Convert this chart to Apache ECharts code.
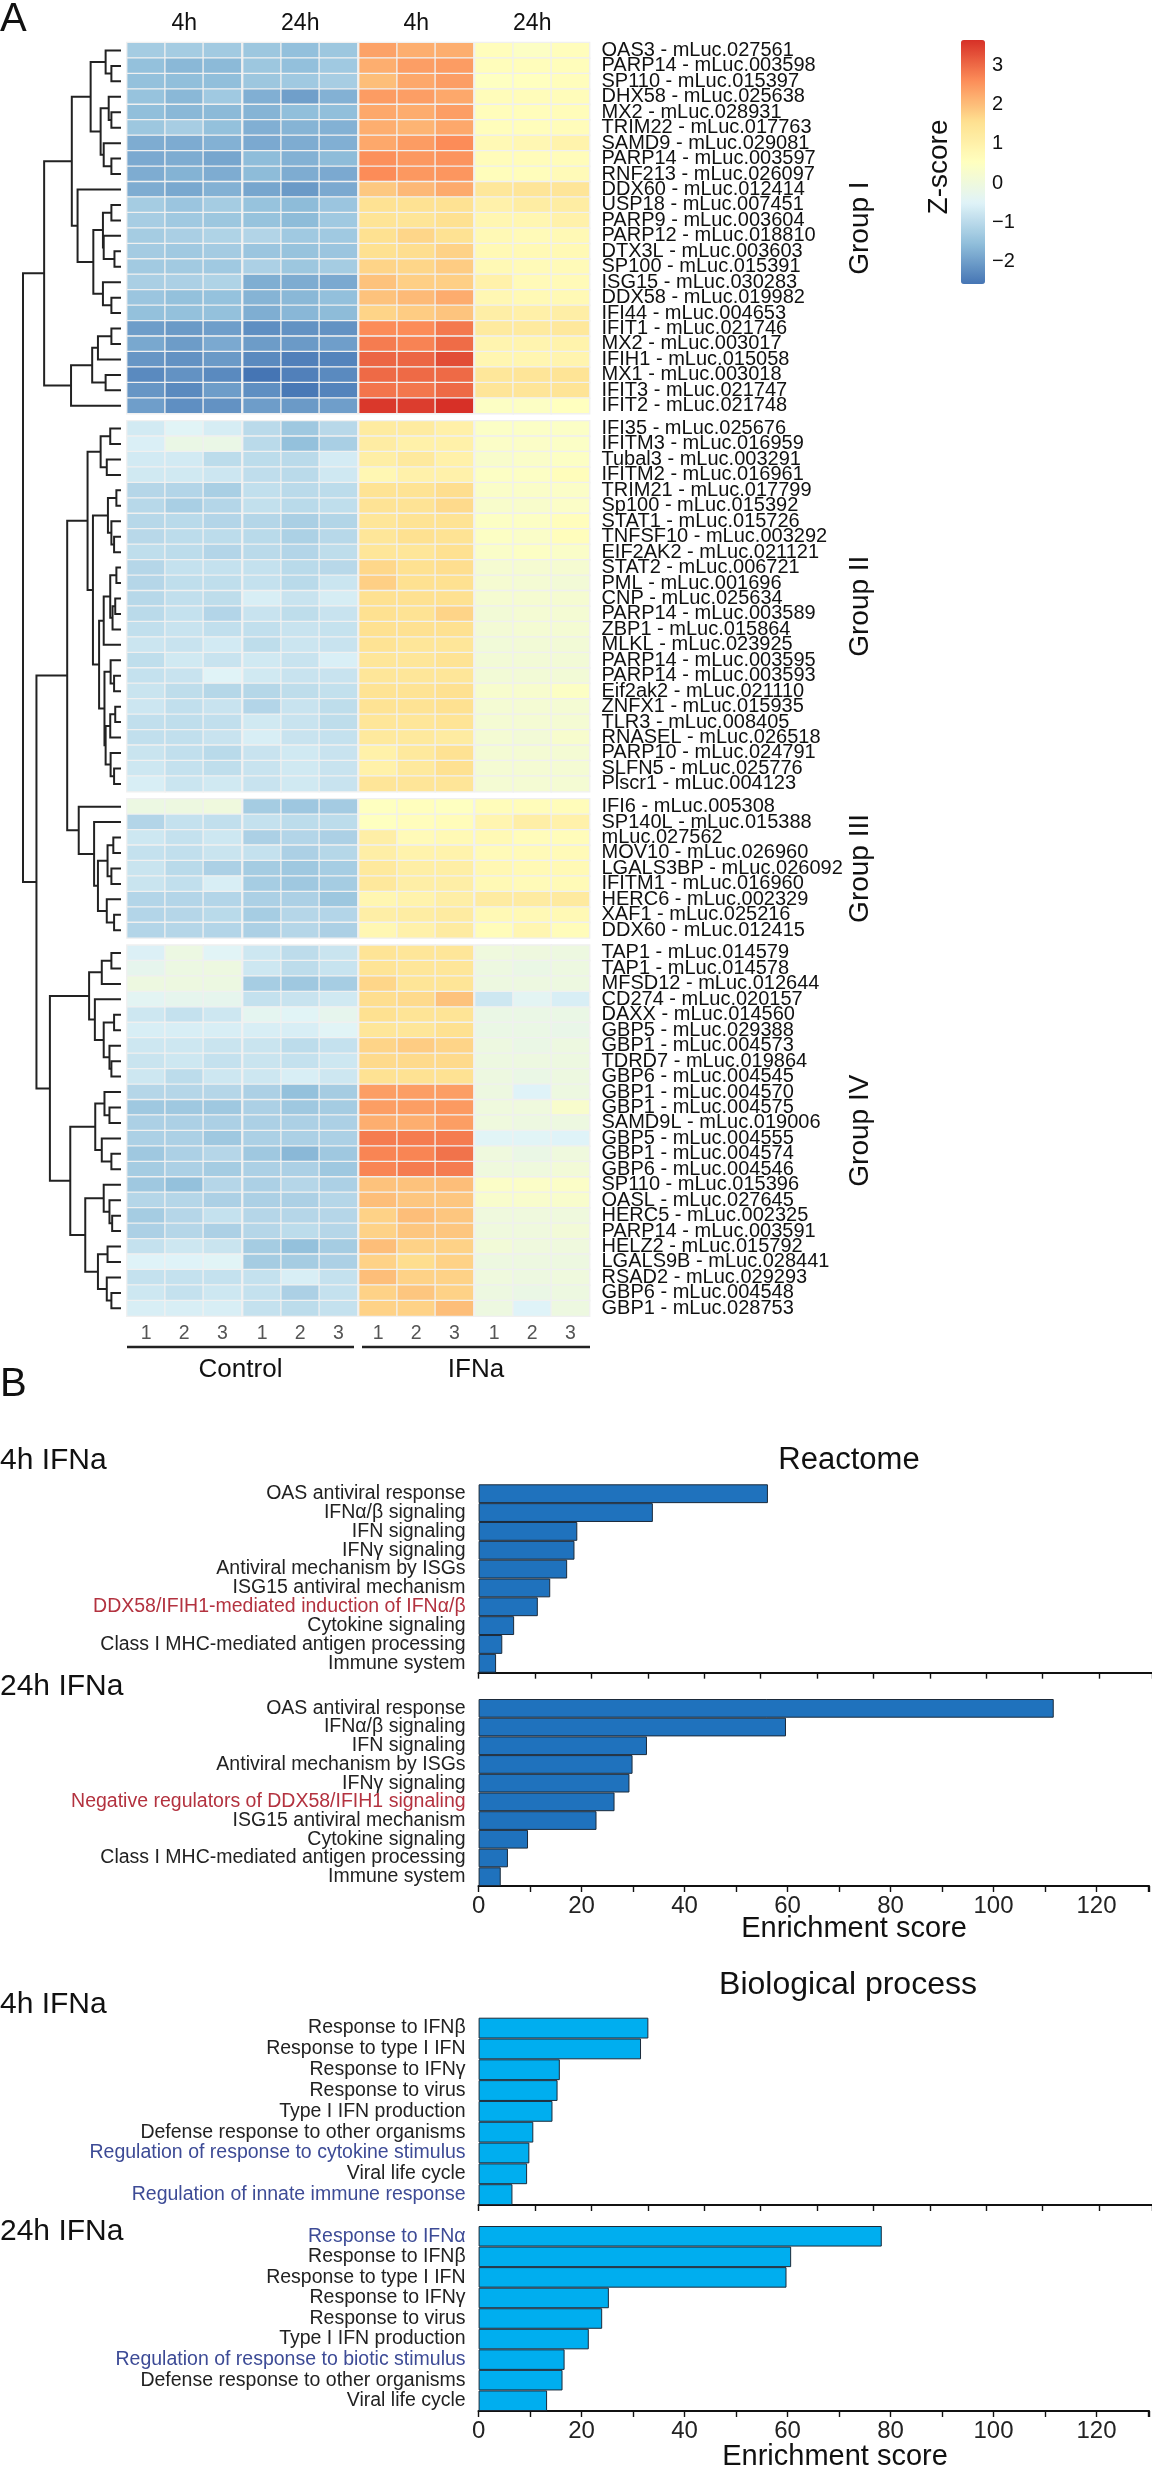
<!DOCTYPE html>
<html><head><meta charset="utf-8">
<script src="https://cdn.jsdelivr.net/npm/echarts@6/dist/echarts.min.js"></script>
<style>html,body{margin:0;padding:0;background:#fff}#c{width:1152px;height:2470px}</style>
</head><body><div id="c"></div>
<script>
// ---------------- DATA ----------------
const timeHeaders = ['4h', '24h', '4h', '24h'];
const replicates = ['1', '2', '3'];
const conditions = ['Control', 'IFNa'];
const groupNames = ['Group I', 'Group II', 'Group III', 'Group IV'];

const groupIGenes = ['OAS3 - mLuc.027561','PARP14 - mLuc.003598','SP110 - mLuc.015397','DHX58 - mLuc.025638','MX2 - mLuc.028931','TRIM22 - mLuc.017763','SAMD9 - mLuc.029081','PARP14 - mLuc.003597','RNF213 - mLuc.026097','DDX60 - mLuc.012414','USP18 - mLuc.007451','PARP9 - mLuc.003604','PARP12 - mLuc.018810','DTX3L - mLuc.003603','SP100 - mLuc.015391','ISG15 - mLuc.030283','DDX58 - mLuc.019982','IFI44 - mLuc.004653','IFIT1 - mLuc.021746','MX2 - mLuc.003017','IFIH1 - mLuc.015058','MX1 - mLuc.003018','IFIT3 - mLuc.021747','IFIT2 - mLuc.021748'];
const groupIIGenes = ['IFI35 - mLuc.025676','IFITM3 - mLuc.016959','Tubal3 - mLuc.003291','IFITM2 - mLuc.016961','TRIM21 - mLuc.017799','Sp100 - mLuc.015392','STAT1 - mLuc.015726','TNFSF10 - mLuc.003292','EIF2AK2 - mLuc.021121','STAT2 - mLuc.006721','PML - mLuc.001696','CNP - mLuc.025634','PARP14 - mLuc.003589','ZBP1 - mLuc.015864','MLKL - mLuc.023925','PARP14 - mLuc.003595','PARP14 - mLuc.003593','Eif2ak2 - mLuc.021110','ZNFX1 - mLuc.015935','TLR3 - mLuc.008405','RNASEL - mLuc.026518','PARP10 - mLuc.024791','SLFN5 - mLuc.025776','Plscr1 - mLuc.004123'];
const groupIIIGenes = ['IFI6 - mLuc.005308','SP140L - mLuc.015388','mLuc.027562','MOV10 - mLuc.026960','LGALS3BP - mLuc.026092','IFITM1 - mLuc.016960','HERC6 - mLuc.002329','XAF1 - mLuc.025216','DDX60 - mLuc.012415'];
const groupIVGenes = ['TAP1 - mLuc.014579','TAP1 - mLuc.014578','MFSD12 - mLuc.012644','CD274 - mLuc.020157','DAXX - mLuc.014560','GBP5 - mLuc.029388','GBP1 - mLuc.004573','TDRD7 - mLuc.019864','GBP6 - mLuc.004545','GBP1 - mLuc.004570','GBP1 - mLuc.004575','SAMD9L - mLuc.019006','GBP5 - mLuc.004555','GBP1 - mLuc.004574','GBP6 - mLuc.004546','SP110 - mLuc.015396','OASL - mLuc.027645','HERC5 - mLuc.002325','PARP14 - mLuc.003591','HELZ2 - mLuc.015792','LGALS9B - mLuc.028441','RSAD2 - mLuc.029293','GBP6 - mLuc.004548','GBP1 - mLuc.028753'];

// z-scores: Control 4h (1,2,3), Control 24h (1,2,3), IFNa 4h (1,2,3), IFNa 24h (1,2,3)
const groupIZ = [
 [-1.26,-1.26,-1.30, -1.37,-1.50,-1.37, 2.35,2.20,2.20, 0.60,0.45,0.60],
 [-1.49,-1.62,-1.60, -1.37,-1.50,-1.33, 2.20,2.39,2.42, 0.62,0.62,0.62],
 [-1.49,-1.53,-1.53, -1.37,-1.33,-1.24, 2.00,2.27,2.39, 0.50,0.55,0.60],
 [-1.45,-1.62,-1.33, -1.75,-1.97,-1.72, 2.42,2.39,2.27, 0.65,0.65,0.65],
 [-1.53,-1.62,-1.60, -1.68,-1.53,-1.53, 2.27,2.22,2.39, 0.62,0.62,0.65],
 [-1.37,-1.24,-1.49, -1.75,-1.68,-1.72, 2.20,2.12,2.27, 0.62,0.62,0.65],
 [-1.79,-1.80,-1.72, -1.83,-1.79,-1.75, 2.27,2.42,2.62, 0.75,0.80,0.95],
 [-1.83,-1.79,-1.88, -1.55,-1.72,-1.57, 2.57,2.47,2.52, 0.65,0.65,0.65],
 [-1.79,-1.70,-1.79, -1.57,-1.79,-1.83, 2.62,2.47,2.50, 0.62,0.62,0.70],
 [-1.79,-1.85,-1.72, -1.88,-2.05,-1.83, 1.87,2.07,2.25, 1.35,1.40,1.40],
 [-1.26,-1.40,-1.26, -1.45,-1.57,-1.40, 1.50,1.50,1.50, 1.00,1.15,1.15],
 [-1.24,-1.33,-1.37, -1.45,-1.57,-1.33, 1.45,1.42,1.55, 0.85,0.85,1.00],
 [-1.26,-1.20,-1.13, -1.10,-1.33,-1.33, 1.55,1.70,1.50, 0.75,0.70,0.75],
 [-1.28,-1.33,-1.28, -1.40,-1.45,-1.40, 1.55,1.60,1.75, 0.75,0.75,0.75],
 [-1.31,-1.31,-1.33, -1.18,-1.37,-1.26, 1.72,1.70,1.82, 0.75,0.70,0.70],
 [-1.20,-1.18,-1.13, -1.77,-1.79,-1.83, 1.95,1.78,1.78, 1.00,0.70,0.70],
 [-1.40,-1.49,-1.47, -1.68,-1.62,-1.50, 1.95,2.05,2.22, 0.80,0.75,0.75],
 [-1.49,-1.49,-1.49, -1.77,-1.64,-1.57, 1.72,1.82,1.92, 1.10,1.05,1.10],
 [-2.00,-2.05,-1.99, -2.20,-2.15,-2.15, 2.62,2.62,2.83, 1.25,1.25,1.30],
 [-1.85,-2.02,-1.83, -2.02,-2.05,-1.99, 2.80,2.72,2.97, 0.90,0.90,0.95],
 [-2.10,-2.15,-2.05, -2.27,-2.40,-2.35, 3.04,3.04,3.32, 0.85,0.85,0.90],
 [-2.27,-2.15,-2.27, -2.56,-2.40,-2.27, 3.00,3.00,3.00, 1.35,1.40,1.45],
 [-2.10,-2.27,-2.00, -2.20,-2.50,-2.35, 2.87,2.85,3.00, 1.40,1.40,1.45],
 [-1.99,-2.20,-2.15, -2.00,-2.05,-1.99, 3.55,3.50,3.64, 0.45,0.45,0.55]
];
const groupIIZ = [
 [-0.68,-0.45,-0.62, -0.99,-1.34,-1.02, 1.22,1.22,1.05, 0.42,0.42,0.42],
 [-0.57,-0.15,-0.17, -0.99,-1.49,-1.21, 1.16,1.02,1.02, 0.40,0.40,0.42],
 [-0.68,-0.68,-0.96, -0.96,-0.99,-0.65, 1.12,1.28,1.02, 0.32,0.37,0.45],
 [-0.70,-0.70,-0.76, -0.93,-0.99,-0.72, 0.80,1.00,1.00, 0.45,0.45,0.62],
 [-1.06,-1.08,-1.21, -0.90,-0.99,-0.96, 1.49,1.49,1.60, 0.37,0.37,0.40],
 [-1.03,-1.21,-1.07, -0.88,-1.00,-0.92, 1.47,1.47,1.65, 0.32,0.32,0.40],
 [-1.03,-1.00,-1.08, -1.07,-1.20,-1.09, 1.38,1.49,1.49, 0.45,0.45,0.60],
 [-1.02,-0.96,-0.96, -1.00,-1.17,-1.03, 1.38,1.55,1.49, 0.45,0.37,0.60],
 [-0.92,-0.96,-1.08, -0.99,-1.08,-0.94, 1.38,1.38,1.55, 0.37,0.45,0.37],
 [-1.06,-0.86,-0.86, -0.86,-1.00,-1.02, 1.68,1.55,1.60, 0.22,0.22,0.22],
 [-1.06,-0.92,-0.92, -0.86,-1.00,-0.78, 1.78,1.55,1.55, 0.22,0.18,0.12],
 [-1.03,-0.90,-0.94, -0.60,-0.81,-0.62, 1.55,1.55,1.55, 0.22,0.22,0.22],
 [-0.99,-0.86,-1.08, -0.81,-0.94,-0.81, 1.55,1.49,1.72, 0.12,0.18,0.18],
 [-0.90,-0.81,-0.90, -0.90,-0.81,-0.84, 1.55,1.55,1.55, 0.15,0.18,0.18],
 [-0.77,-0.81,-0.68, -0.94,-0.77,-0.81, 1.49,1.38,1.38, 0.08,0.12,0.12],
 [-0.92,-0.70,-0.81, -0.70,-0.81,-0.58, 1.38,1.38,1.49, 0.12,0.12,0.12],
 [-0.86,-0.81,-0.48, -0.70,-0.81,-0.81, 1.38,1.38,1.38, 0.12,0.12,0.12],
 [-0.80,-0.94,-1.05, -1.05,-0.94,-0.88, 1.49,1.49,1.55, 0.28,0.28,0.45],
 [-0.76,-0.90,-0.81, -1.08,-0.81,-0.94, 1.49,1.49,1.55, 0.18,0.18,0.18],
 [-0.90,-0.92,-0.90, -0.70,-0.81,-0.94, 1.38,1.38,1.45, 0.18,0.18,0.18],
 [-0.90,-0.90,-0.81, -0.60,-0.81,-0.86, 1.28,1.28,1.20, 0.18,0.12,0.28],
 [-0.80,-0.90,-1.00, -0.81,-0.70,-0.81, 1.02,1.28,1.50, 0.18,0.18,0.18],
 [-0.74,-0.86,-0.92, -0.81,-0.70,-0.81, 1.02,1.28,1.55, 0.18,0.18,0.18],
 [-0.60,-0.78,-0.70, -0.81,-0.70,-0.81, 1.40,1.40,1.40, 0.18,0.18,0.18]
];
const groupIIIZ = [
 [-0.10,-0.05, 0.00, -1.26,-1.36,-1.28, 0.52,0.58,0.52, 0.65,0.65,0.65],
 [-1.08,-0.86,-0.90, -0.86,-0.96,-0.96, 0.52,0.60,0.65, 0.88,1.10,1.00],
 [-0.74,-0.86,-0.74, -1.18,-1.08,-1.18, 1.10,0.70,0.75, 0.75,0.65,0.65],
 [-0.86,-0.90,-0.80, -0.86,-1.18,-1.05, 1.10,0.95,0.95, 0.70,0.70,0.70],
 [-0.80,-1.00,-1.18, -1.27,-1.34,-1.25, 1.28,1.12,1.12, 0.80,0.75,0.75],
 [-0.80,-0.90,-0.60, -1.25,-1.34,-1.27, 1.30,1.10,1.10, 0.75,0.70,0.72],
 [-1.08,-1.08,-1.08, -1.18,-1.18,-1.37, 0.85,0.95,1.10, 1.20,1.20,1.25],
 [-1.08,-1.06,-1.00, -1.25,-1.06,-1.08, 1.10,1.15,1.20, 0.75,0.75,0.75],
 [-1.08,-1.06,-1.08, -1.18,-1.06,-1.18, 0.80,1.00,1.20, 0.65,0.85,0.65]
];
const groupIVZ = [
 [-0.55,-0.10,-0.45, -0.74,-0.95,-0.80, 1.45,1.38,1.38, 0.00,-0.02,-0.05],
 [-0.30,-0.10,-0.05, -0.74,-0.95,-0.82, 1.45,1.38,1.38, -0.05,-0.15,-0.05],
 [-0.05,-0.05,-0.08, -1.25,-1.34,-1.25, 1.70,1.42,1.42, -0.05,-0.05,-0.05],
 [-0.40,-0.30,-0.30, -0.86,-0.81,-0.70, 1.60,1.65,1.95, -0.74,-0.40,-0.60],
 [-0.74,-0.86,-0.74, -0.35,-0.45,-0.30, 1.55,1.45,1.45, -0.15,-0.15,-0.15],
 [-0.60,-0.60,-0.60, -0.60,-0.60,-0.45, 1.38,1.38,1.55, -0.15,-0.15,-0.20],
 [-0.74,-0.74,-0.80, -0.80,-0.96,-0.86, 1.72,1.82,1.72, -0.05,-0.15,-0.05],
 [-0.80,-0.74,-0.86, -0.80,-0.86,-0.74, 1.65,1.65,1.65, -0.05,-0.05,-0.05],
 [-0.74,-0.96,-0.74, -0.74,-0.60,-0.74, 1.50,1.50,1.50, -0.05,-0.15,-0.05],
 [-1.06,-1.06,-1.06, -1.18,-1.49,-1.27, 2.40,2.40,2.40, -0.05,-0.50,-0.05],
 [-1.34,-1.34,-1.34, -1.18,-1.34,-1.27, 2.40,2.40,2.45, 0.00,0.00,0.30],
 [-1.18,-1.18,-1.18, -1.18,-1.18,-1.18, 2.20,2.20,2.40, 0.00,-0.05,-0.05],
 [-1.18,-1.18,-1.34, -1.18,-1.18,-1.18, 2.80,2.80,2.80, -0.45,-0.45,-0.50],
 [-1.34,-1.18,-1.06, -1.34,-1.62,-1.34, 2.70,2.70,2.90, 0.00,-0.15,0.00],
 [-1.27,-1.18,-1.27, -1.18,-1.18,-1.34, 2.70,2.80,2.80, 0.00,0.00,0.10],
 [-1.34,-1.49,-1.06, -1.18,-1.06,-1.18, 1.95,1.95,2.00, 0.40,0.40,0.40],
 [-1.06,-1.06,-1.18, -1.18,-1.18,-1.06, 2.00,1.90,1.90, 0.30,0.30,0.30],
 [-1.27,-1.06,-0.86, -1.06,-1.06,-1.06, 1.75,2.00,1.90, 0.00,0.00,0.00],
 [-1.18,-1.06,-1.18, -1.06,-0.96,-1.06, 1.75,1.90,1.90, 0.00,0.00,0.10],
 [-0.86,-0.74,-0.80, -1.27,-1.49,-1.27, 2.00,1.75,1.75, 0.10,0.00,0.00],
 [-0.50,-0.50,-0.45, -1.27,-1.27,-1.18, 1.75,1.60,1.75, -0.05,-0.05,-0.05],
 [-0.86,-0.86,-0.86, -0.86,-0.60,-0.86, 2.00,1.75,1.75, 0.00,-0.05,0.00],
 [-0.74,-0.86,-0.74, -0.86,-1.18,-0.86, 1.75,1.90,1.75, -0.05,-0.15,-0.05],
 [-0.60,-0.60,-0.60, -0.86,-0.96,-0.86, 1.75,1.75,2.00, -0.05,-0.50,-0.05]
];
const zRange = [-2.56, 3.64];
const zTicks = [-2, -1, 0, 1, 2, 3];

// Row dendrogram: [left, right, height]; numbers = row index (0..80), 'nK' = node K
const dendroNodes = [
 [1,2,25],[0,'n0',40],[4,5,25],[3,'n2',32],[7,8,25],[6,'n4',45],['n3','n5',53],['n1','n6',79],
 [10,11,25],[13,14,17],[12,'n9',45],['n8','n10',47],[16,17,25],[15,'n12',47],['n11','n13',72],
 [9,'n14',113],['n7','n15',128],[18,19,25],['n17',20,60],[21,22,40],['n18','n19',75],['n20',23,130],
 ['n16','n21',200],
 [24,25,28],[26,27,37],['n23','n24',53],[28,29,12],[31,32,18],[30,'n27',25],['n26','n28',34],
 [33,34,12],[35,36,15],['n31',37,22],['n30','n32',28],['n33',38,45],[40,41,18],[39,'n35',27],
 [42,43,15],['n37',44,28],[46,47,18],[45,'n39',27],['n38','n40',40],['n36','n41',43],
 ['n34','n42',57],['n29','n43',73],['n25','n44',87],
 [50,51,20],[52,53,25],['n46','n47',35],[55,56,18],[54,'n49',37],['n48','n50',60],[49,'n51',70],
 [48,'n52',110],['n45','n53',140],
 [57,58,25],['n55',59,50],[61,62,18],[64,65,25],[63,'n58',30],['n57','n59',45],[60,'n60',68],
 ['n56','n61',83],[67,68,30],[66,'n63',43],[70,71,25],[69,'n65',50],['n64','n66',67],
 [74,75,23],[73,'n68',30],[72,'n69',45],[76,77,35],[79,80,25],[78,'n72',37],['n71','n73',60],
 ['n70','n74',93],['n67','n75',132],['n62','n76',185],['n54','n77',220],['n22','n78',255]
];

// Panel B
const reactomeTerms4h = ['OAS antiviral response','IFNα/β signaling','IFN signaling','IFNγ signaling','Antiviral mechanism by ISGs','ISG15 antiviral mechanism','DDX58/IFIH1-mediated induction of IFNα/β','Cytokine signaling','Class I MHC-mediated antigen processing','Immune system'];
const reactomeScores4h = [51.3, 30.9, 17.5, 17.0, 15.7, 12.7, 10.5, 6.3, 4.2, 3.1];
const reactomeTerms24h = ['OAS antiviral response','IFNα/β signaling','IFN signaling','Antiviral mechanism by ISGs','IFNγ signaling','Negative regulators of DDX58/IFIH1 signaling','ISG15 antiviral mechanism','Cytokine signaling','Class I MHC-mediated antigen processing','Immune system'];
const reactomeScores24h = [111.7, 59.7, 32.7, 29.9, 29.3, 26.4, 22.9, 9.6, 5.7, 4.3];
const bpTerms4h = ['Response to IFNβ','Response to type I IFN','Response to IFNγ','Response to virus','Type I IFN production','Defense response to other organisms','Regulation of response to cytokine stimulus','Viral life cycle','Regulation of innate immune response'];
const bpScores4h = [30.1, 28.8, 14.4, 14.0, 13.1, 9.7, 9.0, 8.6, 6.0];
const bpTerms24h = ['Response to IFNα','Response to IFNβ','Response to type I IFN','Response to IFNγ','Response to virus','Type I IFN production','Regulation of response to biotic stimulus','Defense response to other organisms','Viral life cycle'];
const bpScores24h = [78.3, 60.7, 59.8, 25.3, 24.0, 21.4, 16.7, 16.3, 13.3];
const reactomeHighlighted = ['DDX58/IFIH1-mediated induction of IFNα/β','Negative regulators of DDX58/IFIH1 signaling'];
const bpHighlighted = ['Regulation of response to cytokine stimulus','Regulation of innate immune response','Response to IFNα','Regulation of response to biotic stimulus'];

// ---------------- LAYOUT / STYLE ----------------
const FONT = '"Liberation Sans", Arial, Helvetica, sans-serif';
const palette = ['#4575B4','#91BFDB','#E0F3F8','#FFFFBF','#FEE090','#FC8D59','#D73027'];
const ROW_H = 15.45, GAP_H = 7.3, HM_TOP = 42.7, HM_LEFT = 127, BLOCK_W = 114.5, BLOCK_STEP = 116;

const groups = [
  {genes: groupIGenes, z: groupIZ},
  {genes: groupIIGenes, z: groupIIZ},
  {genes: groupIIIGenes, z: groupIIIZ},
  {genes: groupIVGenes, z: groupIVZ}
];
const groupTops = [];
let yCursor = HM_TOP;
groups.forEach(g => { groupTops.push(yCursor); yCursor += g.genes.length * ROW_H + GAP_H; });
const HM_BOTTOM = yCursor - GAP_H;

const grids = [], xAxes = [], yAxes = [], series = [];
groups.forEach((g, gi) => {
  for (let b = 0; b < 4; b++) {
    const idx = grids.length;
    grids.push({left: HM_LEFT + b * BLOCK_STEP, top: groupTops[gi], width: BLOCK_W, height: g.genes.length * ROW_H});
    xAxes.push({
      gridIndex: idx, type: 'category', data: replicates,
      position: gi === 0 ? 'top' : 'bottom', show: gi === 0 || gi === 3,
      axisLine: {show: false}, axisTick: {show: false}, splitLine: {show: false},
      axisLabel: {show: gi === 3, fontSize: 19.5, color: '#555', margin: 8, fontFamily: FONT},
      name: gi === 0 ? timeHeaders[b] : '', nameLocation: 'middle', nameGap: 8,
      nameTextStyle: {fontSize: 23, color: '#111', fontFamily: FONT}
    });
    yAxes.push({
      gridIndex: idx, type: 'category', data: g.genes, inverse: true, position: 'right',
      show: b === 3, axisLine: {show: false}, axisTick: {show: false}, splitLine: {show: false},
      axisLabel: {show: b === 3, interval: 0, fontSize: 20, color: '#111', margin: 12, fontFamily: FONT}
    });
    const data = [];
    g.z.forEach((row, ri) => { for (let j = 0; j < 3; j++) data.push([j, ri, row[b * 3 + j]]); });
    series.push({type: 'heatmap', xAxisIndex: idx, yAxisIndex: idx, data,
      itemStyle: {borderColor: '#f0f0f0', borderWidth: 1.3}, emphasis: {disabled: true}, silent: true});
  }
});
const nHeat = series.length;

// dendrogram grid
const dIdx = grids.length;
const totalUnits = (HM_BOTTOM - HM_TOP) / ROW_H;
grids.push({left: 23, top: HM_TOP, width: 98, height: HM_BOTTOM - HM_TOP});
xAxes.push({gridIndex: dIdx, type: 'value', min: 0, max: 255, inverse: true, show: false});
yAxes.push({gridIndex: dIdx, type: 'value', min: 0, max: totalUnits, inverse: true, show: false});
const leafY = [];
groups.forEach((g, gi) => g.genes.forEach((_, i) => leafY.push((groupTops[gi] - HM_TOP) / ROW_H + i + 0.5)));
const nodeInfo = [];
const ref = r => typeof r === 'number' ? {y: leafY[r], h: 0} : nodeInfo[+r.slice(1)];
const dendroLines = dendroNodes.map(([a, b, h], k) => {
  const A = ref(a), B = ref(b);
  nodeInfo[k] = {y: (A.y + B.y) / 2, h};
  return {coords: [[A.h, A.y], [h, A.y], [h, B.y], [B.h, B.y]]};
});
series.push({type: 'lines', coordinateSystem: 'cartesian2d', xAxisIndex: dIdx, yAxisIndex: dIdx,
  polyline: true, data: dendroLines, silent: true,
  lineStyle: {color: '#222', width: 2, opacity: 1}});

// colorbar axis
const cIdx = grids.length;
grids.push({left: 961, top: 40, width: 24, height: 244});
xAxes.push({gridIndex: cIdx, type: 'value', show: false, min: 0, max: 1});
yAxes.push({gridIndex: cIdx, type: 'value', min: zRange[0], max: zRange[1], position: 'right',
  axisLine: {show: false}, axisTick: {show: false}, splitLine: {show: false},
  axisLabel: {customValues: zTicks, fontSize: 20, color: '#111', margin: 7, fontFamily: FONT,
    formatter: v => String(v).replace('-', '\u2212')}});
series.push({type: 'scatter', xAxisIndex: cIdx, yAxisIndex: cIdx, data: [], silent: true});

// Panel B
const panelB = [
  {terms: reactomeTerms4h, scores: reactomeScores4h, color: '#1f72bd', top: 1484.3, height: 188.4, max: 119.4, labels: false, hi: reactomeHighlighted, hiColor: '#b3323f'},
  {terms: reactomeTerms24h, scores: reactomeScores24h, color: '#1f72bd', top: 1699, height: 187, max: 130.2, labels: true, hi: reactomeHighlighted, hiColor: '#b3323f'},
  {terms: bpTerms4h, scores: bpScores4h, color: '#00aeef', top: 2017.7, height: 187.3, max: 119.4, labels: false, hi: bpHighlighted, hiColor: '#3d4b96'},
  {terms: bpTerms24h, scores: bpScores24h, color: '#00aeef', top: 2226, height: 185, max: 130.2, labels: true, hi: bpHighlighted, hiColor: '#3d4b96'}
];
panelB.forEach(p => {
  const idx = grids.length;
  grids.push({left: 478.6, top: p.top, width: 1152 - 478.6, height: p.height});
  xAxes.push({gridIndex: idx, type: 'value', min: 0, max: p.max, interval: 10,
    axisLine: {show: true, lineStyle: {color: '#111', width: 2.2}},
    axisTick: {show: true, length: 6, lineStyle: {color: '#111', width: 1.4}},
    splitLine: {show: false},
    axisLabel: {show: p.labels, fontSize: 24, color: '#222', margin: 8, fontFamily: FONT,
      formatter: v => (v % 20 === 0 && v <= 120) ? String(v) : ''}});
  yAxes.push({gridIndex: idx, type: 'category', data: p.terms, inverse: true,
    axisLine: {show: false}, axisTick: {show: false}, splitLine: {show: false},
    axisLabel: {interval: 0, fontSize: 19.5, margin: 13, fontFamily: FONT,
      color: v => p.hi.includes(v) ? p.hiColor : '#222'}});
  series.push({type: 'bar', xAxisIndex: idx, yAxisIndex: idx, data: p.scores, barCategoryGap: '0%',
    itemStyle: {color: p.color, borderColor: '#1b2a3a', borderWidth: 1}, silent: true});
});

// text annotations
const txt = (text, x, y, size, opts = {}) => ({
  type: 'text', x, y, rotation: opts.rot || 0, silent: true,
  style: {text, font: `${size}px ${FONT}`, fill: opts.color || '#111',
    textAlign: opts.align || 'left', textVerticalAlign: opts.va || 'middle'}
});
const graphics = [
  txt('A', 0, 0, 40, {va: 'top'}),
  txt('B', 0, 1365, 40, {va: 'top'}),
  txt('Z-score', 939, 167, 28, {rot: Math.PI / 2, align: 'center'}),
  txt(conditions[0], (127 + 354) / 2, 1370, 26, {align: 'center'}),
  txt(conditions[1], (362 + 590) / 2, 1370, 26, {align: 'center'}),
  {type: 'line', silent: true, shape: {x1: 127, y1: 1347, x2: 354, y2: 1347}, style: {stroke: '#222', lineWidth: 2.5}},
  {type: 'line', silent: true, shape: {x1: 362, y1: 1347, x2: 590, y2: 1347}, style: {stroke: '#222', lineWidth: 2.5}},
  txt('4h IFNa', 0, 1461, 30),
  txt('Reactome', 849, 1460, 31, {align: 'center'}),
  txt('24h IFNa', 0, 1687, 30),
  txt('Enrichment score', 854, 1929, 29, {align: 'center'}),
  txt('Biological process', 848, 1985, 32, {align: 'center'}),
  txt('4h IFNa', 0, 2005, 30),
  txt('24h IFNa', 0, 2232, 30),
  txt('Enrichment score', 835, 2457, 29, {align: 'center'})
];
groups.forEach((g, gi) => {
  graphics.push(txt(groupNames[gi], 860, groupTops[gi] + g.genes.length * ROW_H / 2, 28, {rot: Math.PI / 2, align: 'center'}));
});

const chart = echarts.init(document.getElementById('c'), null, {renderer: 'canvas'});
chart.setOption({
  animation: false,
  backgroundColor: '#fff',
  textStyle: {fontFamily: FONT},
  grid: grids, xAxis: xAxes, yAxis: yAxes, series,
  visualMap: {type: 'continuous', min: zRange[0], max: zRange[1], seriesIndex: [...Array(nHeat).keys()],
    orient: 'vertical', left: 961, top: 40, itemWidth: 24, itemHeight: 244, calculable: false,
    padding: 0, inRange: {color: palette}, text: null, showLabel: false, hoverLink: false},
  graphic: graphics
});
</script></body></html>
